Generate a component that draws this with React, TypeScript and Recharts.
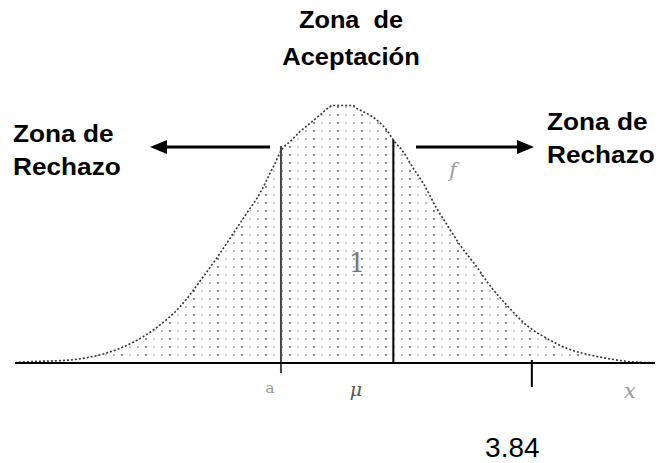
import React from "react";
import { ComposedChart, Area, XAxis, YAxis, ReferenceLine } from "recharts";

// x positions along the axis (critical value 3.84 marked on the axis)
const xs = [0, 0.111, 0.409, 0.533, 0.78, 1.027, 1.226, 1.399, 1.523, 1.622, 1.721, 1.82, 1.882, 1.932, 1.976, 2.056, 2.117, 2.192, 2.266, 2.34, 2.355, 2.511, 2.539, 2.613, 2.687, 2.762, 2.811, 2.885, 2.959, 3.033, 3.133, 3.219, 3.306, 3.43, 3.516, 3.653, 3.814, 3.95, 4.099, 4.272, 4.396, 4.569, 4.742];
// curve heights
const ys = [0.0003, 0.0013, 0.003, 0.0053, 0.0147, 0.033, 0.0563, 0.0863, 0.1097, 0.1297, 0.1497, 0.1697, 0.1863, 0.1997, 0.212, 0.223, 0.2313, 0.2397, 0.248, 0.2563, 0.2575, 0.2575, 0.2547, 0.2497, 0.243, 0.233, 0.223, 0.211, 0.1947, 0.1797, 0.1547, 0.1363, 0.118, 0.0963, 0.0797, 0.058, 0.0363, 0.0247, 0.0147, 0.008, 0.0047, 0.0013, 0.0003];

const criticalTicks = [3.84];
const tickLabels = ["3.84"];
const leftLine = { x: 1.976, top: 0.217, bottom: -0.01 };
const rightLine = { x: 2.811, top: 0.223, bottom: 0 };
const tickMark = { top: 0.003, bottom: -0.024 };

const data = xs.map((x, i) => ({ x, y: ys[i] }));

const FONT = "'Liberation Sans', Arial, sans-serif";

const CritTick = (props: any) => {
  const { x, y, payload } = props;
  const idx = criticalTicks.indexOf(payload.value);
  return (
    <text x={x - 19.5} y={y + 94} textAnchor="middle" fontFamily={FONT} fontSize={28} fill="#000">
      {tickLabels[idx] ?? String(payload.value)}
    </text>
  );
};

const BoldText = ({ x, y, text, anchor = "start", sx = 1.14 }: any) => (
  <g transform={`translate(${x},${y}) scale(${sx},1)`}>
    <text x={0} y={0} textAnchor={anchor} fontFamily={FONT} fontWeight="bold" fontSize={23} fill="#000" style={{ whiteSpace: "pre" }}>
      {text}
    </text>
  </g>
);

export default function App() {
  return (
    <div style={{ position: "absolute", left: 0, top: 0, width: 660, height: 463, background: "#fff" }}>
      <ComposedChart width={660} height={463} data={data} margin={{ top: 63, right: 5, bottom: 0, left: 15 }}>
        <defs>
          <pattern id="dots" x="0" y="0" width="24" height="8" patternUnits="userSpaceOnUse">
            <rect x="0" y="0" width="24" height="8" fill="#fff" />
            <circle cx="2" cy="3" r="1" fill="#666" />
            <circle cx="10" cy="3" r="0.9" fill="#bbb" />
            <circle cx="18" cy="3" r="0.9" fill="#999" />
          </pattern>
        </defs>
        <YAxis hide domain={[0, 0.3]} type="number" />
        <XAxis
          dataKey="x"
          type="number"
          domain={[0, 4.755]}
          allowDataOverflow
          ticks={criticalTicks}
          tick={<CritTick />}
          tickLine={false}
          tickSize={0}
          tickMargin={0}
          height={100}
          axisLine={{ stroke: "#000", strokeWidth: 2 }}
        />
        <Area
          type="monotone"
          dataKey="y"
          stroke="#333"
          strokeWidth={1.6}
          strokeDasharray="2 2"
          fill="url(#dots)"
          fillOpacity={1}
          baseValue={0}
          isAnimationActive={false}
        />
        <ReferenceLine
          segment={[{ x: leftLine.x, y: leftLine.top }, { x: leftLine.x, y: leftLine.bottom }]}
          stroke="#444"
          strokeWidth={2}
          ifOverflow="visible"
        />
        <ReferenceLine
          segment={[{ x: rightLine.x, y: rightLine.top }, { x: rightLine.x, y: rightLine.bottom }]}
          stroke="#000"
          strokeWidth={2}
          ifOverflow="visible"
        />
        <ReferenceLine
          segment={[{ x: criticalTicks[0], y: tickMark.top }, { x: criticalTicks[0], y: tickMark.bottom }]}
          stroke="#000"
          strokeWidth={2}
          ifOverflow="visible"
        />
      </ComposedChart>
      <svg width={660} height={463} style={{ position: "absolute", left: 0, top: 0, pointerEvents: "none" }}>
        <BoldText x={351} y={28} text={"Zona  de"} anchor="middle" sx={1.1} />
        <BoldText x={351} y={65} text={"Aceptación"} anchor="middle" sx={1.11} />
        <BoldText x={13} y={142} text={"Zona de"} />
        <BoldText x={13} y={175} text={"Rechazo"} />
        <BoldText x={547} y={130} text={"Zona de"} />
        <BoldText x={547} y={163} text={"Rechazo"} />
        {/* arrows */}
        <line x1={270} y1={147} x2={164} y2={147} stroke="#000" strokeWidth={3} />
        <polygon points="150,147 167,140 167,154" fill="#000" />
        <line x1={416} y1={147} x2={520} y2={147} stroke="#000" strokeWidth={3} />
        <polygon points="534,147 517,140 517,154" fill="#000" />
        {/* faint symbols */}
        <text x={357} y={272} textAnchor="middle" fontFamily="'DejaVu Serif', serif" fontSize={26} fill="#777">1</text>
        <text x={453} y={177} textAnchor="middle" fontFamily="'DejaVu Serif', serif" fontStyle="italic" fontSize={20} fill="#999">f</text>
        <text x={270} y={393} textAnchor="middle" fontFamily="'DejaVu Serif', serif" fontSize={15} fill="#999">a</text>
        <text x={356} y={396} textAnchor="middle" fontFamily="'DejaVu Serif', serif" fontStyle="italic" fontSize={19} fill="#555">μ</text>
        <text x={630} y={398} textAnchor="middle" fontFamily="'DejaVu Serif', serif" fontStyle="italic" fontSize={21} fill="#999">x</text>
      </svg>
    </div>
  );
}
